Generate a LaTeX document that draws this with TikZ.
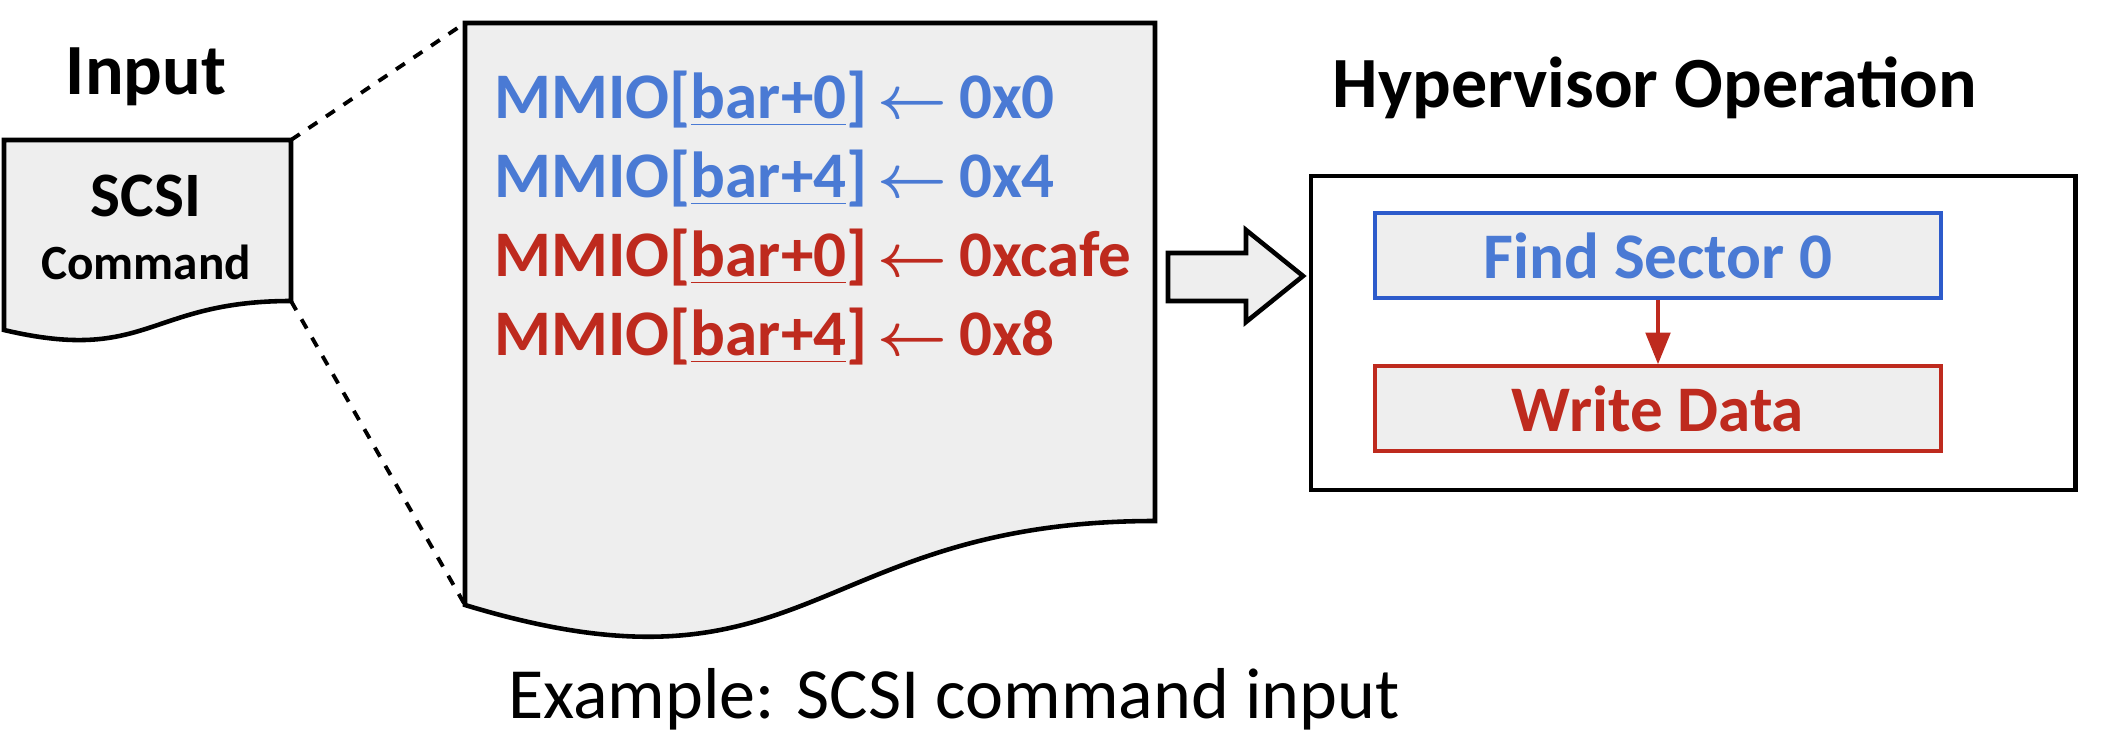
\documentclass[tikz,border=0pt]{standalone}
\usepackage{fontspec}
\setmainfont{Carlito}
\usetikzlibrary{arrows.meta}
\definecolor{mmioblue}{HTML}{4A7AD4}
\definecolor{boxblue}{HTML}{2D5BCB}
\definecolor{mmiored}{HTML}{BE2A1E}
\definecolor{docgray}{HTML}{EEEEEE}
\newcommand\mmioarrow{\kern-0.08em{\boldmath$\leftarrow$}\kern-0.04em}
\tikzset{
  docline/.style={line width=1.3pt, fill=docgray},
  mmio/.style={anchor=base west, inner sep=0pt, font=\bfseries\fontsize{18.5}{22}\selectfont},
  title/.style={anchor=base, inner sep=0pt, font=\bfseries\fontsize{20.5}{24}\selectfont},
  opbox/.style={line width=1pt, fill=docgray, minimum width=5.66cm, minimum height=0.85cm,
    inner sep=0pt, font=\bfseries\fontsize{18.5}{22}\selectfont},
}

\begin{document}
\begin{tikzpicture}[x=0.01cm, y=-0.01cm]
    \useasboundingbox (0,0) rectangle (2124,746);

    % input document
    \coordinate (in-tl) at (4,140);
    \coordinate (in-tr) at (291,140);
    \coordinate (in-br) at (291,301);
    \coordinate (in-bl) at (4,330);
    \draw[docline] (in-bl) -- (in-tl) -- (in-tr) -- (in-br)
        .. controls (148,301) and (148,364) .. (in-bl) -- cycle;
    \node[title] (input) at (146,95) {Input};
    \node[anchor=base, inner sep=0pt, font=\bfseries\fontsize{18}{22}\selectfont] (scsi) at (146,217) {SCSI};
    \node[anchor=base, inner sep=0pt, font=\bfseries\fontsize{14}{17}\selectfont] (cmd) at (146,280) {Command};

    % zoomed document
    \coordinate (big-tl) at (465,23);
    \coordinate (big-tr) at (1155,23);
    \coordinate (big-br) at (1155,521);
    \coordinate (big-bl) at (465,605);
    \draw[docline] (big-bl) -- (big-tl) -- (big-tr) -- (big-br)
        .. controls (810,521) and (810,710) .. (big-bl) -- cycle;

    \draw[line width=1.1pt, dashed] (in-tr) -- (big-tl);
    \draw[line width=1.1pt, dashed] (in-br) -- (big-bl);

    \node[mmio, text=mmioblue] (w1) at (494,119) {MMIO[\underline{bar+0}] \mmioarrow{} 0x0};
    \node[mmio, text=mmioblue] (w2) at (494,198) {MMIO[\underline{bar+4}] \mmioarrow{} 0x4};
    \node[mmio, text=mmiored] (w3) at (494,277) {MMIO[\underline{bar+0}] \mmioarrow{} 0xcafe};
    \node[mmio, text=mmiored] (w4) at (494,356) {MMIO[\underline{bar+4}] \mmioarrow{} 0x8};

    % hypervisor side
    \node[title] (hyptitle) at (1655,108) {Hypervisor Operation};
    \node[draw, line width=1.3pt, minimum width=7.64cm, minimum height=3.14cm] (hyp) at (1693,333) {};
    \node[opbox, draw=boxblue, text=mmioblue] (find) at (1658,255.5) {Find Sector 0};
    \node[opbox, draw=mmiored, text=mmiored] (write) at (1658,408.5) {Write Data};
    \draw[mmiored, line width=1pt, -{Triangle[length=9pt, width=7pt]}] (find) -- (write);

    % block arrow
    \draw[line width=1.3pt, fill=docgray] (1168,253) -- (1246,253) -- (1246,230) -- (1303,276)
        -- (1246,322) -- (1246,301) -- (1168,301) -- cycle;

    \node[anchor=base, inner sep=0pt, font=\fontsize{20.5}{24}\selectfont] (caption) at (954,718) {Example: SCSI command input};
\end{tikzpicture}
\end{document}
